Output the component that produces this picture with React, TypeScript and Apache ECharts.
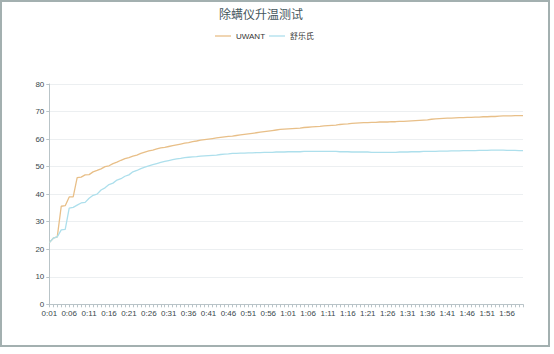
import React, { useEffect, useRef } from "react";
import * as echarts from "echarts";

const titleText = "除螨仪升温测试";
const seriesNames = ["UWANT", "舒乐氏"];
const startMinute = 1;
const pointCount = 120;
const categories: string[] = Array.from({ length: pointCount }, (_, i) => {
  const m = startMinute + i;
  return `${Math.floor(m / 60)}:${String(m % 60).padStart(2, "0")}`;
});

const uwant: number[] = [
  22.4, 24.0, 24.5, 35.6, 35.8, 39.0, 39.0, 46.0, 46.2, 47.0,
  47.1, 48.1, 48.6, 49.2, 50.0, 50.3, 51.1, 51.6, 52.3, 52.9,
  53.3, 53.8, 54.2, 54.8, 55.3, 55.7, 56.0, 56.4, 56.8, 57.0,
  57.3, 57.6, 57.9, 58.2, 58.5, 58.7, 59.1, 59.3, 59.6, 59.8,
  60.0, 60.2, 60.4, 60.6, 60.8, 61.0, 61.1, 61.3, 61.5, 61.7,
  61.9, 62.1, 62.3, 62.5, 62.7, 62.9, 63.1, 63.3, 63.5, 63.6,
  63.7, 63.8, 63.9, 64.0, 64.2, 64.3, 64.4, 64.5, 64.6, 64.8,
  64.9, 65.0, 65.1, 65.3, 65.4, 65.5, 65.7, 65.8, 65.9, 66.0,
  66.0, 66.1, 66.1, 66.2, 66.2, 66.2, 66.3, 66.3, 66.4, 66.4,
  66.5, 66.6, 66.7, 66.8, 66.9, 67.0, 67.2, 67.3, 67.4, 67.5,
  67.6, 67.6, 67.7, 67.8, 67.8, 67.9, 67.9, 68.0, 68.0, 68.1,
  68.1, 68.2, 68.2, 68.3, 68.4, 68.4, 68.4, 68.5, 68.5, 68.5,
];

const shulesh: number[] = [
  22.4, 24.0, 24.5, 27.0, 27.2, 34.9, 35.2, 36.0, 36.8, 37.0,
  38.5, 39.6, 40.0, 41.5, 42.3, 43.5, 44.0, 45.1, 45.6, 46.5,
  47.0, 48.1, 48.6, 49.3, 49.8, 50.3, 50.7, 51.1, 51.5, 51.9,
  52.2, 52.5, 52.8, 53.0, 53.3, 53.4, 53.5, 53.6, 53.8, 53.9,
  54.0, 54.1, 54.2, 54.4, 54.5, 54.6, 54.8, 54.8, 54.9, 54.9,
  55.0, 55.0, 55.1, 55.1, 55.2, 55.2, 55.2, 55.3, 55.3, 55.3,
  55.4, 55.4, 55.4, 55.4, 55.5, 55.5, 55.5, 55.5, 55.5, 55.5,
  55.5, 55.5, 55.5, 55.4, 55.4, 55.4, 55.3, 55.3, 55.3, 55.3,
  55.3, 55.2, 55.2, 55.2, 55.2, 55.2, 55.2, 55.2, 55.3, 55.3,
  55.3, 55.4, 55.4, 55.4, 55.5, 55.5, 55.5, 55.5, 55.6, 55.6,
  55.6, 55.7, 55.7, 55.7, 55.8, 55.8, 55.8, 55.8, 55.9, 55.9,
  55.9, 56.0, 56.0, 56.0, 56.0, 55.9, 55.9, 55.9, 55.8, 55.8,
];

const yMin = 0;
const yMax = 80;
const yInterval = 10;

const FONT = "'Liberation Sans', 'Noto Sans CJK SC', sans-serif";
const colors = ["#e8bf88", "#addfec"];

export default function App() {
  const ref = useRef<HTMLDivElement>(null);
  useEffect(() => {
    if (!ref.current) return;
    const chart = echarts.init(ref.current, undefined, { renderer: "svg" });
    chart.setOption({
      animation: false,
      backgroundColor: "#fff",
      color: colors,
      textStyle: { fontFamily: FONT },
      title: {
        text: titleText,
        left: 259,
        top: 7,
        padding: 0,
        textAlign: "center",
        textStyle: { fontSize: 12, fontWeight: "normal", color: "#44565c", fontFamily: FONT },
      },
      legend: {
        data: seriesNames,
        left: 213,
        top: 30,
        padding: 0,
        icon: "rect",
        itemWidth: 16,
        itemHeight: 1.3,
        itemGap: 4,
        textStyle: { fontSize: 8, color: "#333", fontFamily: FONT },
      },
      grid: { left: 47.3, right: 25, top: 82, bottom: 40.7, containLabel: false },
      xAxis: {
        type: "category",
        data: categories,
        boundaryGap: false,
        axisLine: { lineStyle: { color: "#b9c4c8", width: 1 } },
        axisTick: { show: true, interval: 0, length: 3, lineStyle: { color: "#b9c4c8" } },
        axisLabel: { interval: 4, fontSize: 8, color: "#3a484c", margin: 5, fontFamily: FONT },
        splitLine: { show: false },
      },
      yAxis: {
        type: "value",
        min: yMin,
        max: yMax,
        interval: yInterval,
        axisLine: { show: true, lineStyle: { color: "#b9c4c8", width: 1 } },
        axisTick: { show: true, length: 3, lineStyle: { color: "#b9c4c8" } },
        axisLabel: { fontSize: 8, color: "#3a484c", margin: 5, fontFamily: FONT },
        splitLine: { show: true, lineStyle: { color: "#eceff1", width: 1 } },
      },
      series: [
        {
          name: seriesNames[0],
          type: "line",
          data: uwant,
          symbol: "none",
          showSymbol: false,
          lineStyle: { width: 1.3, color: colors[0] },
          itemStyle: { color: colors[0] },
        },
        {
          name: seriesNames[1],
          type: "line",
          data: shulesh,
          symbol: "none",
          showSymbol: false,
          lineStyle: { width: 1.3, color: colors[1] },
          itemStyle: { color: colors[1] },
        },
      ],
    });
    return () => chart.dispose();
  }, []);

  return (
    <div
      style={{
        position: "absolute",
        left: 0,
        top: 0,
        width: 546,
        height: 343,
        border: "2px solid #a3b0b0",
        background: "#fff",
      }}
    >
      <div ref={ref} style={{ width: 546, height: 343 }} />
    </div>
  );
}
